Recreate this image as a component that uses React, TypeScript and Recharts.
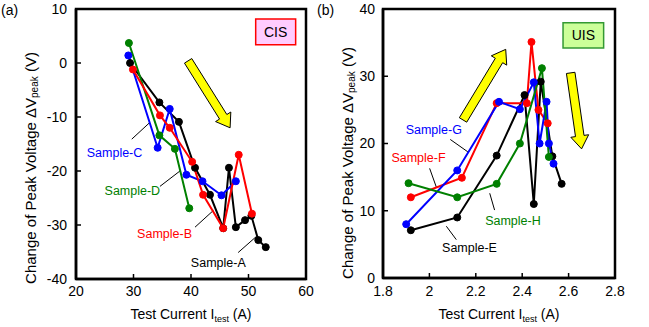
import React from "react";
import {
  LineChart,
  Line,
  XAxis,
  YAxis,
  ReferenceArea,
  ReferenceLine,
  ReferenceDot,
  Label,
} from "recharts";

// (a) CIS panel
const cisTicksX = [20, 30, 40, 50, 60];
const cisTicksY = [-40, -30, -20, -10, 0, 10];

const sampleA_x = [29.4, 34.5, 37.9, 40.7, 43.3, 45.6, 46.6, 47.8, 49.4, 50.5, 51.7, 53.0];
const sampleA_y = [0.0, -7.3, -10.9, -19.4, -24.4, -30.6, -19.4, -30.4, -29.1, -28.3, -32.8, -34.1];
const sampleB_x = [29.9, 34.6, 36.3, 40.2, 42.1, 45.6, 48.3, 50.6];
const sampleB_y = [-1.2, -9.7, -12.0, -18.3, -24.4, -30.6, -17.0, -27.9];
const sampleC_x = [29.1, 34.2, 36.3, 39.2, 42.0, 45.3, 47.8];
const sampleC_y = [1.4, -15.7, -8.5, -20.7, -21.9, -24.5, -21.9];
const sampleD_x = [29.2, 34.5, 37.2, 39.7];
const sampleD_y = [3.7, -13.4, -15.9, -26.9];

// (b) UIS panel
const uisTicksX = [1.8, 2, 2.2, 2.4, 2.6, 2.8];
const uisTicksY = [0, 10, 20, 30, 40];

const sampleE_x = [1.92, 2.12, 2.29, 2.41, 2.45, 2.48, 2.53, 2.57];
const sampleE_y = [7.1, 9.0, 18.2, 27.2, 11.0, 29.2, 18.1, 14.0];
const sampleF_x = [1.92, 2.14, 2.29, 2.42, 2.44, 2.47, 2.51];
const sampleF_y = [12.0, 14.9, 26.0, 26.0, 35.1, 25.0, 23.0];
const sampleG_x = [1.9, 2.12, 2.3, 2.39, 2.45, 2.475, 2.505, 2.515, 2.535];
const sampleG_y = [8.0, 16.0, 26.2, 25.1, 29.1, 20.0, 26.2, 20.0, 17.0];
const sampleH_x = [1.91, 2.12, 2.29, 2.39, 2.485, 2.515];
const sampleH_y = [14.1, 12.0, 14.0, 20.0, 31.2, 18.0];

const pts = (xs: number[], ys: number[]) => xs.map((x, i) => ({ x, y: ys[i] }));

const FONT = '"Liberation Sans", Arial, sans-serif';
const BLACK = "#000000";
const RED = "#ff0000";
const BLUE = "#0000ff";
const GREEN = "#008000";

function arrowShape(props: any) {
  const { x1, y1, x2, y2 } = props;
  const dx = x2 - x1;
  const dy = y2 - y1;
  const len = Math.hypot(dx, dy) || 1;
  const ux = dx / len, uy = dy / len;
  const px = -uy, py = ux;
  const sw = 4.3, hw = 9, hl = 13;
  const bx = x2 - ux * hl, by = y2 - uy * hl;
  const p = [
    [x1 + px * sw, y1 + py * sw],
    [bx + px * sw, by + py * sw],
    [bx + px * hw, by + py * hw],
    [x2, y2],
    [bx - px * hw, by - py * hw],
    [bx - px * sw, by - py * sw],
    [x1 - px * sw, y1 - py * sw],
  ];
  return (
    <polygon
      points={p.map((q) => q.join(",")).join(" ")}
      fill="#ffff00"
      stroke="#000"
      strokeWidth={1}
    />
  );
}

const YTitle = ({ x, y }: { x: number; y: number }) => (
  <text
    x={x}
    y={y}
    transform={`rotate(-90, ${x}, ${y})`}
    textAnchor="middle"
    dominantBaseline="central"
    fontSize={15}
    fill="#000"
    fontFamily={FONT}
  >
    Change of Peak Voltage ΔV
    <tspan fontSize={10} dy={4}>peak</tspan>
    <tspan dy={-4}> (V)</tspan>
  </text>
);

const XTitle = ({ x, y }: { x: number; y: number }) => (
  <text x={x} y={y} textAnchor="middle" fontSize={14} fill="#000" fontFamily={FONT}>
    Test Current I
    <tspan fontSize={9} dy={3}>test</tspan>
    <tspan dy={-3}> (A)</tspan>
  </text>
);

const tickStyle = { fill: "#000", fontSize: 14, fontFamily: FONT };

function sampleLine(data: { x: number; y: number }[], color: string, name: string) {
  return (
    <Line
      key={name}
      data={data}
      dataKey="y"
      name={name}
      stroke={color}
      strokeWidth={2}
      dot={{ r: 3.5, fill: color, stroke: color, strokeWidth: 1 }}
      isAnimationActive={false}
    />
  );
}

function tag(x: number, y: number, text: string, color: string) {
  return (
    <ReferenceDot
      key={text}
      x={x}
      y={y}
      r={0}
      fill="none"
      stroke="none"
      label={{ value: text, position: "center", fill: color, fontSize: 12.5, fontFamily: FONT }}
    />
  );
}

function leader(x1: number, y1: number, x2: number, y2: number) {
  return (
    <ReferenceLine
      segment={[{ x: x1, y: y1 }, { x: x2, y: y2 }]}
      stroke="#000"
      strokeWidth={1}
    />
  );
}

export default function App() {
  return (
    <div
      style={{
        position: "absolute",
        left: 0,
        top: 0,
        width: 649,
        height: 327,
        background: "#fff",
        fontFamily: FONT,
      }}
    >
      <div style={{ position: "absolute", left: 1, top: 2, fontSize: 14 }}>(a)</div>
      <div style={{ position: "absolute", left: 317, top: 2, fontSize: 14 }}>(b)</div>

      <div style={{ position: "absolute", left: 0, top: 0 }}>
        <LineChart width={320} height={327} margin={{ top: 9, right: 14, bottom: 0, left: 0 }}>
          <XAxis
            dataKey="x"
            type="number"
            domain={[20, 60]}
            ticks={cisTicksX}
            height={48}
            tick={tickStyle}
            tickSize={-5}
            tickMargin={12}
            axisLine={{ stroke: "#000", strokeWidth: 2.5 }}
            tickLine={{ stroke: "#000", strokeWidth: 1.5 }}
          >
            <Label content={() => <XTitle x={191} y={319} />} />
          </XAxis>
          <YAxis
            type="number"
            domain={[-40, 10]}
            ticks={cisTicksY}
            width={76}
            tick={tickStyle}
            tickSize={-5}
            tickMargin={14}
            axisLine={{ stroke: "#000", strokeWidth: 2.5 }}
            tickLine={{ stroke: "#000", strokeWidth: 1.5 }}
          >
            <Label content={() => <YTitle x={30} y={168} />} />
          </YAxis>
          <ReferenceArea x1={20} x2={60} y1={-40} y2={10} fill="none" stroke="#000" strokeWidth={2.5} />
          <ReferenceArea
            x1={51.25}
            x2={58.2}
            y1={3.4}
            y2={8.15}
            fill="#ffccff"
            fillOpacity={1}
            stroke={RED}
            strokeWidth={1.5}
            label={{ value: "CIS", position: "center", fill: "#000", fontSize: 14, fontFamily: FONT }}
          />
          <ReferenceLine segment={[{ x: 39.5, y: 0.4 }, { x: 46.8, y: -12.0 }]} shape={arrowShape} />
          {leader(29.7, -14.1, 32.75, -11.1)}
          {leader(34.6, -22.85, 38.2, -19.9)}
          {leader(40.7, -30.4, 43.9, -27.3)}
          {leader(48.2, -35.1, 51.4, -32.1)}
          {sampleLine(pts(sampleA_x, sampleA_y), BLACK, "Sample-A")}
          {sampleLine(pts(sampleD_x, sampleD_y), GREEN, "Sample-D")}
          {sampleLine(pts(sampleC_x, sampleC_y), BLUE, "Sample-C")}
          {sampleLine(pts(sampleB_x, sampleB_y), RED, "Sample-B")}
          {tag(26.7, -16.6, "Sample-C", BLUE)}
          {tag(29.8, -23.6, "Sample-D", GREEN)}
          {tag(35.4, -31.6, "Sample-B", RED)}
          {tag(44.75, -36.9, "Sample-A", BLACK)}
        </LineChart>
      </div>

      <div style={{ position: "absolute", left: 320, top: 0 }}>
        <LineChart width={329} height={327} margin={{ top: 9, right: 34, bottom: 0, left: 0 }}>
          <XAxis
            dataKey="x"
            type="number"
            domain={[1.8, 2.8]}
            ticks={uisTicksX}
            height={49}
            tick={tickStyle}
            tickSize={-5}
            tickMargin={13}
            axisLine={{ stroke: "#000", strokeWidth: 2.5 }}
            tickLine={{ stroke: "#000", strokeWidth: 1.5 }}
          >
            <Label content={() => <XTitle x={179} y={319} />} />
          </XAxis>
          <YAxis
            type="number"
            domain={[0, 40]}
            ticks={uisTicksY}
            width={63}
            tick={tickStyle}
            tickSize={-5}
            tickMargin={13}
            axisLine={{ stroke: "#000", strokeWidth: 2.5 }}
            tickLine={{ stroke: "#000", strokeWidth: 1.5 }}
          >
            <Label content={() => <YTitle x={27} y={163} />} />
          </YAxis>
          <ReferenceArea x1={1.8} x2={2.8} y1={0} y2={40} fill="none" stroke="#000" strokeWidth={2.5} />
          <ReferenceArea
            x1={2.576}
            x2={2.751}
            y1={34.2}
            y2={37.95}
            fill="#ccff99"
            fillOpacity={1}
            stroke="#339933"
            strokeWidth={1.5}
            label={{ value: "UIS", position: "center", fill: "#000", fontSize: 14, fontFamily: FONT }}
          />
          <ReferenceLine segment={[{ x: 2.145, y: 23.5 }, { x: 2.329, y: 34.0 }]} shape={arrowShape} />
          <ReferenceLine segment={[{ x: 2.609, y: 30.5 }, { x: 2.656, y: 19.2 }]} shape={arrowShape} />
          {leader(2.09, 20.6, 2.166, 18.75)}
          {leader(2.001, 16.3, 2.03, 13.5)}
          {leader(2.26, 12.6, 2.281, 10.1)}
          {leader(2.073, 7.7, 2.116, 5.7)}
          {sampleLine(pts(sampleE_x, sampleE_y), BLACK, "Sample-E")}
          {sampleLine(pts(sampleF_x, sampleF_y), RED, "Sample-F")}
          {sampleLine(pts(sampleG_x, sampleG_y), BLUE, "Sample-G")}
          {sampleLine(pts(sampleH_x, sampleH_y), GREEN, "Sample-H")}
          {tag(2.019, 22.0, "Sample-G", BLUE)}
          {tag(1.953, 17.9, "Sample-F", RED)}
          {tag(2.36, 8.6, "Sample-H", GREEN)}
          {tag(2.173, 4.5, "Sample-E", BLACK)}
        </LineChart>
      </div>
    </div>
  );
}
